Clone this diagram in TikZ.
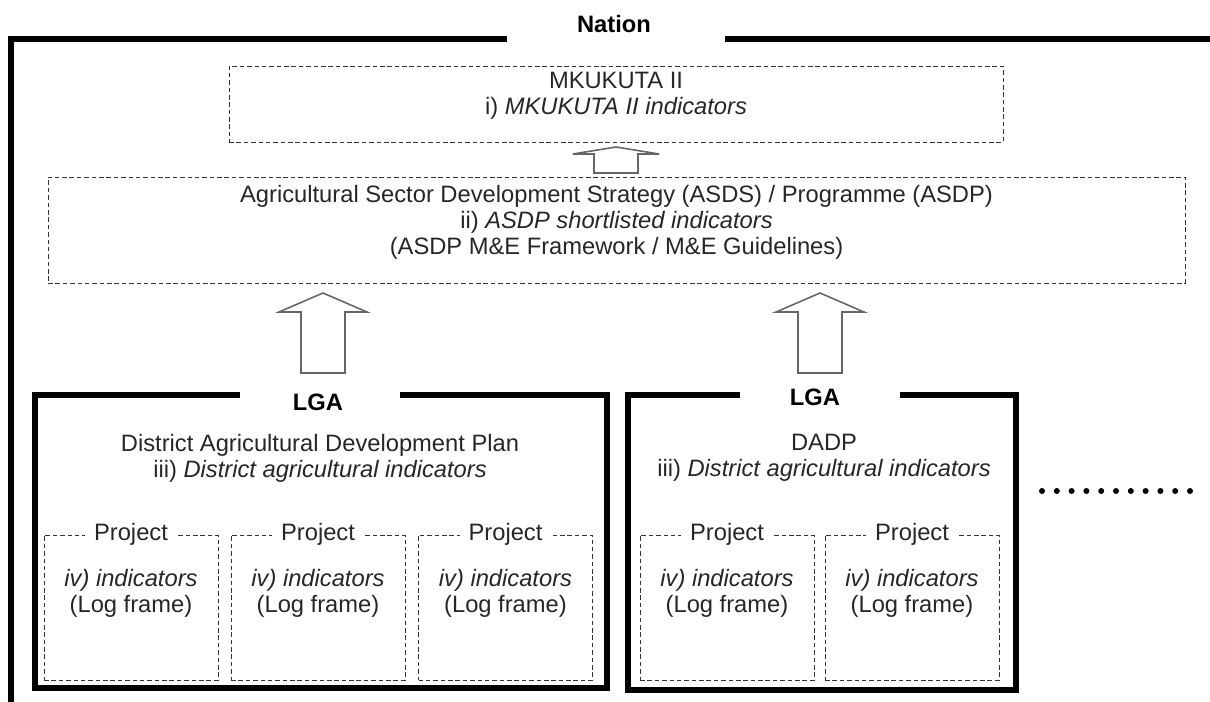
\documentclass[tikz,border=0pt]{standalone}
\usepackage{fontspec}
\setmainfont{Liberation Sans}
\usepackage{tikz}
\usetikzlibrary{positioning}
\tikzset{
  frame/.style={line width=3pt, line join=miter, line cap=rect},
  dbox/.style={draw=black!80, line width=0.5pt, dash pattern=on 2.6pt off 1.6pt, inner sep=0pt},
  txt/.style={align=center, font=\fontsize{13.5}{14.8}\selectfont, text=black!85, inner sep=1pt},
  hdr/.style={font=\fontsize{13.5}{14.8}\selectfont\bfseries, inner sep=1pt},
  blockarr/.style={draw=black!60, line width=0.9pt, fill=white, line join=miter},
}

\begin{document}
\begin{tikzpicture}[x=0.02cm, y=-0.02cm]
\useasboundingbox (0,0) rectangle (1210,702);

% nation frame
\node[hdr] (nation) at (614,24) {Nation};
\draw[frame] (504,39) -- (11,39) -- (11,706);
\draw[frame] (728,39) -- (1214,39);

% upper levels
\node[dbox, minimum width=774*0.02cm, minimum height=76*0.02cm] (mkukuta) at (616,104) {};
\node[txt] (mkukutatxt) at (616,96) {MKUKUTA II\\i) \textit{MKUKUTA II indicators}};

\node[dbox, minimum width=1137*0.02cm, minimum height=106*0.02cm] (asds) at (616.5,230) {};
\node[txt] (asdstxt) at (616.5,222) {Agricultural Sector Development Strategy (ASDS) / Programme (ASDP)\\
  ii) \textit{ASDP shortlisted indicators}\\(ASDP M\&E Framework / M\&E Guidelines)};

% block arrows
\foreach \tx/\ty/\hw/\hl/\sw/\sl in {616/147/43/7/22/19, 323/293/44/19/22/61, 820/293/44/19/22/61} {
  \coordinate (tip) at (\tx,\ty);
  \draw[blockarr] (tip) -- ++(\hw,\hl) -- ++(-\hw+\sw,0) -- ++(0,\sl) -- ++(-2*\sw,0)
    -- ++(0,-\sl) -- ++(-\hw+\sw,0) -- cycle;
}

% LGA frames
\node[hdr] (lgaA) at (318,402) {LGA};
\draw[frame] (237,395) -| (35,688) -| (607,395) -- (403,395);
\node[hdr] (lgaB) at (815,397) {LGA};
\draw[frame] (737,395) -| (628,690) -| (1016,395) -- (903,395);

\node[txt] (dadpA) at (320,458) {District Agricultural Development Plan\\iii) \textit{District agricultural indicators}};
\node[txt] (dadpB) at (824,458) {DADP\\iii) \textit{District agricultural indicators}};

% projects
\foreach \n/\cx in {p1/131, p2/318, p3/505.5, p4/727, p5/912} {
  \node[dbox, minimum width=174*0.02cm, minimum height=145*0.02cm] (\n) at (\cx,607.5) {};
  \node[txt, fill=white, inner xsep=5pt] (\n lbl) at (\n.north) {Project};
  \node[txt] (\n txt) at (\cx,593) {\textit{iv) indicators}\\(Log frame)};
}

% more districts
\foreach \i in {0,...,10}
  \fill (1042+\i*14.8,491) circle (3);
\end{tikzpicture}
\end{document}
